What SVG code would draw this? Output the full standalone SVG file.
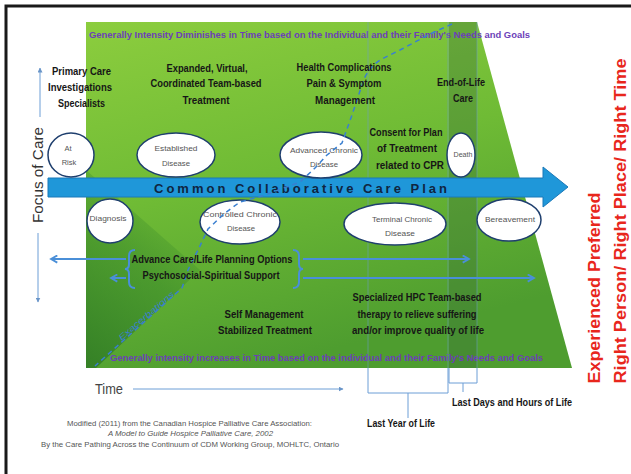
<svg xmlns="http://www.w3.org/2000/svg" width="631" height="474" viewBox="0 0 631 474">
<defs>
<linearGradient id="gBase" x1="0" y1="0" x2="0.35" y2="1">
<stop offset="0" stop-color="#8ccd3e"/>
<stop offset="0.5" stop-color="#6fbb35"/>
<stop offset="1" stop-color="#4e9d2f"/>
</linearGradient>
<linearGradient id="gDark" x1="0" y1="1" x2="0.55" y2="0">
<stop offset="0" stop-color="#2f7a24" stop-opacity="0.85"/>
<stop offset="0.6" stop-color="#3a8a2a" stop-opacity="0.55"/>
<stop offset="1" stop-color="#3a8a2a" stop-opacity="0"/>
</linearGradient>
<marker id="ah" viewBox="0 0 10 10" refX="9" refY="5" markerWidth="5" markerHeight="5" orient="auto"><path d="M0,0 L10,5 L0,10 z" fill="#6a95c8"/></marker>
<marker id="chev" viewBox="0 0 10 10" refX="8" refY="5" markerWidth="4.5" markerHeight="4.5" orient="auto"><path d="M1,1 L8,5 L1,9" fill="none" stroke="#4a8fd8" stroke-width="2"/></marker>
<style>
.lbl{font-family:"Liberation Sans",Arial,sans-serif;font-weight:bold;font-size:10px;fill:#161616;text-anchor:middle}
.el ellipse{fill:#fff;stroke:#1f3f6e;stroke-width:1.5}
.el text{font-family:"Liberation Sans",Arial,sans-serif;font-size:7.5px;fill:#555;text-anchor:middle}
.pur{font-family:"Liberation Sans",Arial,sans-serif;font-weight:bold;font-size:9.5px;fill:#6c3fb8}
.red{font-family:"Liberation Sans",Arial,sans-serif;font-weight:bold;font-size:17px;fill:#e8261c;text-anchor:middle}
.cite{font-family:"Liberation Sans",Arial,sans-serif;font-size:7.5px;fill:#555;text-anchor:middle}
.thin{stroke:#6d9ed6;stroke-width:1;fill:none}
.plan{stroke:#4a8fd8;stroke-width:2;fill:none}
</style>
</defs>
<rect width="631" height="474" fill="#fff"/>
<path d="M6,474 V6 H631" fill="none" stroke="#1a1a1a" stroke-width="3"/>

<g id="background">
<polygon points="86,22 477,22 572,368 86,368" fill="url(#gBase)"/>
<polygon points="86,368 86,170 200,270 96,368" fill="url(#gDark)"/>
<rect x="449" y="22" width="28" height="346" fill="#3a6e3a" opacity="0.35"/>
<text class="pur" x="89" y="38" textLength="441" lengthAdjust="spacingAndGlyphs">Generally Intensity Diminishes in Time based on the Individual and their Family's Needs and Goals</text>
<text class="pur" x="110" y="361" textLength="433" lengthAdjust="spacingAndGlyphs">Generally intensity increases in Time based on the individual and their Family's Needs and Goals</text>
</g>

<g id="connectors">
<line class="thin" x1="368" y1="22" x2="368" y2="368" opacity="0.5"/>
<line class="thin" x1="448" y1="22" x2="448" y2="368" opacity="0.5"/>
<line class="thin" x1="477" y1="22" x2="477" y2="368" opacity="0.5"/>
<path class="thin" d="M368,368 V393 H448 V368 M408,393 V418"/>
<path class="thin" d="M449,368 V383 H477 V368 M463,383 V392"/>
<line class="thin" x1="40" y1="117" x2="40" y2="68" marker-end="url(#ah)"/>
<line class="thin" x1="38" y1="233" x2="38" y2="302" marker-end="url(#ah)"/>
<line class="thin" x1="133" y1="389" x2="343" y2="389" stroke-width="1.5" marker-end="url(#ah)"/>
<line class="plan" x1="126" y1="259" x2="51" y2="259" marker-end="url(#chev)"/>
<line class="plan" x1="126" y1="278" x2="111" y2="278" marker-end="url(#chev)"/>
<line class="plan" x1="303" y1="259" x2="469" y2="259" marker-end="url(#chev)"/>
<line class="plan" x1="303" y1="278" x2="534" y2="278" marker-end="url(#chev)"/>
<path class="plan" d="M135,250 Q129,250 129,256 V264 Q129,269 125,269 Q129,269 129,274 V282 Q129,288 135,288"/>
<path class="plan" d="M293,250 Q299,250 299,256 V264 Q299,269 303,269 Q299,269 299,274 V282 Q299,288 293,288"/>
</g>

<g id="care-plan">
<polygon points="48,178 543,178 543,167 568,187 543,207 543,197 48,197" fill="#1f97d9" stroke="#1a78b8" stroke-width="1"/>
<text x="300.5" y="193" font-family="Liberation Sans, Arial, sans-serif" font-weight="bold" font-size="13" fill="#0f2540" text-anchor="middle" textLength="293" lengthAdjust="spacing">Common Collaborative Care Plan</text>
</g>

<g id="at-risk" class="el"><ellipse cx="71" cy="155" rx="23" ry="22"/><text x="68" y="150.5">At</text><text x="69" y="164.5">Risk</text></g>
<g id="established" class="el"><ellipse cx="176" cy="155" rx="39" ry="22"/><text x="176" y="150.5" textLength="43" lengthAdjust="spacingAndGlyphs">Established</text><text x="176" y="165.5" textLength="28" lengthAdjust="spacingAndGlyphs">Disease</text></g>
<g id="advanced" class="el"><ellipse cx="321" cy="155" rx="41" ry="23"/><text x="324" y="152.5" textLength="68" lengthAdjust="spacingAndGlyphs">Advanced Chronic</text><text x="324" y="166.5" textLength="28" lengthAdjust="spacingAndGlyphs">Disease</text></g>
<g id="death" class="el"><ellipse cx="461" cy="155" rx="14" ry="22"/><text x="463" y="157" font-size="7" textLength="19" lengthAdjust="spacingAndGlyphs">Death</text></g>
<g id="diagnosis" class="el"><ellipse cx="110" cy="221" rx="23" ry="22"/><text x="108" y="220.5" textLength="37" lengthAdjust="spacingAndGlyphs">Diagnosis</text></g>
<g id="controlled" class="el"><ellipse cx="240" cy="222" rx="40" ry="22"/><text x="240" y="216.5" textLength="74" lengthAdjust="spacingAndGlyphs">Controlled Chronic</text><text x="241" y="230.5" textLength="28" lengthAdjust="spacingAndGlyphs">Disease</text></g>
<g id="terminal" class="el"><ellipse cx="395" cy="224" rx="51" ry="21"/><text x="402" y="221.5" textLength="60" lengthAdjust="spacingAndGlyphs">Terminal Chronic</text><text x="400" y="235.5" textLength="30" lengthAdjust="spacingAndGlyphs">Disease</text></g>
<g id="bereavement" class="el"><ellipse cx="509" cy="220" rx="32" ry="21"/><text x="510" y="221.5" textLength="50" lengthAdjust="spacingAndGlyphs">Bereavement</text></g>

<g id="exacerbations">
<path d="M452,24 L430,34 L400,50 L380,60 Q366,70 362,85 L352,115 L342,143 L327,155 L315,168 L300,182 L262,196 L240,202 L225,213 L208,229 L198,250 L188,270 L182,288 L95,366" fill="none" stroke="#3a7fd0" stroke-width="1.5" stroke-dasharray="5 4"/>
<text transform="translate(148,318) rotate(-40.5)" font-family="Liberation Sans, Arial, sans-serif" font-style="italic" font-size="8" fill="#3a7fd0" text-anchor="middle" textLength="70" lengthAdjust="spacingAndGlyphs">Exacerbations</text>
</g>

<g id="labels">
<text class="lbl" x="81.5" y="75" textLength="59" lengthAdjust="spacingAndGlyphs">Primary Care</text>
<text class="lbl" x="80" y="91" textLength="64" lengthAdjust="spacingAndGlyphs">Investigations</text>
<text class="lbl" x="81.5" y="107" textLength="47" lengthAdjust="spacingAndGlyphs">Specialists</text>
<text class="lbl" x="207" y="72" textLength="81" lengthAdjust="spacingAndGlyphs">Expanded, Virtual,</text>
<text class="lbl" x="206" y="87" textLength="111" lengthAdjust="spacingAndGlyphs">Coordinated Team-based</text>
<text class="lbl" x="206" y="104" textLength="47" lengthAdjust="spacingAndGlyphs">Treatment</text>
<text class="lbl" x="344" y="71" textLength="95" lengthAdjust="spacingAndGlyphs">Health Complications</text>
<text class="lbl" x="344" y="87" textLength="75" lengthAdjust="spacingAndGlyphs">Pain &amp; Symptom</text>
<text class="lbl" x="345" y="104" textLength="60" lengthAdjust="spacingAndGlyphs">Management</text>
<text class="lbl" x="461" y="86" textLength="48" lengthAdjust="spacingAndGlyphs">End-of-Life</text>
<text class="lbl" x="463" y="102" textLength="20" lengthAdjust="spacingAndGlyphs">Care</text>
<text class="lbl" x="406" y="136" textLength="73" lengthAdjust="spacingAndGlyphs">Consent for Plan</text>
<text class="lbl" x="407" y="152" textLength="60" lengthAdjust="spacingAndGlyphs">of Treatment</text>
<text class="lbl" x="410" y="169" textLength="68" lengthAdjust="spacingAndGlyphs">related to CPR</text>
<text class="lbl" x="212" y="263" textLength="161" lengthAdjust="spacingAndGlyphs">Advance Care/Life Planning Options</text>
<text class="lbl" x="211" y="279" textLength="137" lengthAdjust="spacingAndGlyphs">Psychosocial-Spiritual Support</text>
<text class="lbl" x="264" y="318" textLength="79" lengthAdjust="spacingAndGlyphs">Self Management</text>
<text class="lbl" x="265" y="334" textLength="94" lengthAdjust="spacingAndGlyphs">Stabilized Treatment</text>
<text class="lbl" x="417" y="301" textLength="129" lengthAdjust="spacingAndGlyphs">Specialized HPC Team-based</text>
<text class="lbl" x="417" y="318" textLength="119" lengthAdjust="spacingAndGlyphs">therapy to relieve suffering</text>
<text class="lbl" x="418" y="334" textLength="132" lengthAdjust="spacingAndGlyphs">and/or improve quality of life</text>
<text class="lbl" x="401" y="427" textLength="68" lengthAdjust="spacingAndGlyphs">Last Year of Life</text>
<text class="lbl" x="512" y="406" textLength="120" lengthAdjust="spacingAndGlyphs">Last Days and Hours of Life</text>
<text transform="translate(43,175) rotate(-90)" font-family="Liberation Sans, Arial, sans-serif" font-size="14" fill="#333" text-anchor="middle" textLength="96" lengthAdjust="spacingAndGlyphs">Focus of Care</text>
<text x="109" y="394" font-family="Liberation Sans, Arial, sans-serif" font-size="14" fill="#444" text-anchor="middle" textLength="28" lengthAdjust="spacingAndGlyphs">Time</text>
<text class="red" transform="translate(600,288) rotate(-90)" textLength="191" lengthAdjust="spacingAndGlyphs">Experienced Preferred</text>
<text class="red" transform="translate(626,221) rotate(-90)" textLength="325" lengthAdjust="spacingAndGlyphs">Right Person/ Right Place/ Right Time</text>
<text class="cite" x="189.5" y="426" textLength="245" lengthAdjust="spacingAndGlyphs">Modified (2011) from the Canadian Hospice Palliative Care Association:</text>
<text class="cite" x="190.5" y="436" font-style="italic" textLength="165" lengthAdjust="spacingAndGlyphs">A Model to Guide Hospice Palliative Care, 2002</text>
<text class="cite" x="190" y="447" textLength="298" lengthAdjust="spacingAndGlyphs">By the Care Pathing Across the Continuum of CDM Working Group, MOHLTC, Ontario</text>
</g>
</svg>
